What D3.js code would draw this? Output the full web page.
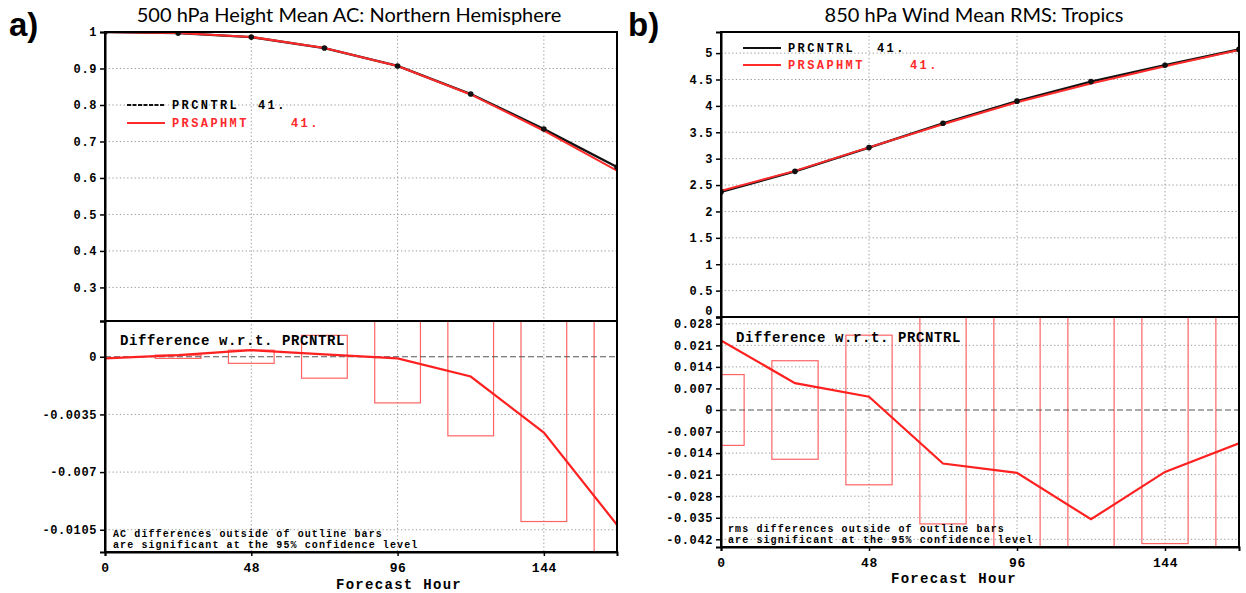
<!DOCTYPE html>
<html>
<head>
<meta charset="utf-8">
<script src="https://cdn.jsdelivr.net/npm/d3@7"></script>
<style>
body { margin: 0; background: #fff; }
.mono { font-family: "Liberation Mono", "DejaVu Sans Mono", monospace; font-weight: bold; }
.ttl { font-family: Lato, "Open Sans", sans-serif; }
</style>
</head>
<body>
<svg id="chart" width="1246" height="593"></svg>
<script>
// forecast hours shared by both panels
var hours = [0, 24, 48, 72, 96, 120, 144, 168];
var xTicks = [0, 48, 96, 144];

// a) 500 hPa height anomaly correlation, NH
var acCntrl  = [1.0, 0.997, 0.986, 0.956, 0.907, 0.830, 0.734, 0.630];
var acSaphmt = [0.9999, 0.9971, 0.9864, 0.9562, 0.9069, 0.8288, 0.7294, 0.6198];
var acDiff   = [-0.0001, 0.0001, 0.0004, 0.00015, -0.0001, -0.0012, -0.0046, -0.0102];
var acBar    = [0, 0.0001, 0.0004, 0.0013, 0.0028, 0.0048, 0.0100, 0.0140];
var acTicks     = [0.3, 0.4, 0.5, 0.6, 0.7, 0.8, 0.9, 1];
var acDiffTicks = [0, -0.0035, -0.007, -0.0105];

// b) 850 hPa wind RMS, tropics
var rmsCntrl  = [2.37, 2.76, 3.21, 3.67, 4.09, 4.46, 4.77, 5.07];
var rmsSaphmt = [2.3926, 2.7687, 3.2143, 3.6526, 4.0696, 4.4245, 4.7499, 5.0592];
var rmsDiff   = [0.0226, 0.0087, 0.0043, -0.0174, -0.0204, -0.0355, -0.0201, -0.0108];
var rmsBar    = [0.0115, 0.016, 0.0243, 0.037, 0.05, 0.05, 0.0434, 0.05];
var rmsTicks     = [0, 0.5, 1, 1.5, 2, 2.5, 3, 3.5, 4, 4.5, 5];
var rmsDiffTicks = [0.028, 0.021, 0.014, 0.007, 0, -0.007, -0.014, -0.021, -0.028, -0.035, -0.042];

var svg = d3.select('#chart');

function addText(g, x, y, str, size, cls, opts) {
    opts = opts || {};
    return g.append('text')
        .attr('class', cls)
        .attr('x', x)
        .attr('y', y)
        .attr('text-anchor', opts.anchor || 'start')
        .style('font-size', size + 'px')
        .style('letter-spacing', (opts.ls || 0) + 'px')
        .style('fill', opts.fill || '#000')
        .text(str);
}

function drawPanel(p) {
    var g = svg.append('g');
    var x = d3.scaleLinear().domain([0, 168]).range([p.left, p.right]);
    var yTop = d3.scaleLinear().domain(p.topDomain).range([p.mid, p.top]);
    var yBot = d3.scaleLinear().domain(p.diffDomain).range([p.bottom, p.mid]);

    //clip paths for the two sub panels
    var defs = g.append('defs');
    defs.append('clipPath').attr('id', 'ct' + p.id).append('rect')
        .attr('x', p.left).attr('y', p.top)
        .attr('width', p.right - p.left).attr('height', p.mid - p.top);
    defs.append('clipPath').attr('id', 'cb' + p.id).append('rect')
        .attr('x', p.left).attr('y', p.mid)
        .attr('width', p.right - p.left).attr('height', p.bottom - p.mid);

    //dotted grid
    var grid = g.append('g')
        .style('stroke', '#9a9a9a')
        .style('stroke-width', 1)
        .style('stroke-dasharray', '1.3,2.4');
    xTicks.filter(function(d){ return d > 0; }).forEach(function(h){
        grid.append('line')
            .attr('x1', x(h)).attr('x2', x(h))
            .attr('y1', p.top).attr('y2', p.bottom);
    });
    p.topTicks.forEach(function(v){
        var yy = yTop(v);
        if (yy > p.top + 2 && yy < p.mid - 2) {
            grid.append('line')
                .attr('x1', p.left).attr('x2', p.right)
                .attr('y1', yy).attr('y2', yy);
        }
    });
    p.diffTicks.forEach(function(v){
        var yy = yBot(v);
        if (v !== 0 && yy > p.mid + 2 && yy < p.bottom - 2) {
            grid.append('line')
                .attr('x1', p.left).attr('x2', p.right)
                .attr('y1', yy).attr('y2', yy);
        }
    });

    //top panel lines
    var top = g.append('g').attr('clip-path', 'url(#ct' + p.id + ')');
    var lineTop = d3.line()
        .x(function(d, i){ return x(hours[i]); })
        .y(function(d){ return yTop(d); });
    top.append('path')
        .datum(p.cntrl)
        .attr('d', lineTop)
        .style('fill', 'none')
        .style('stroke', '#111')
        .style('stroke-width', 2.4);
    top.append('path')
        .datum(p.saphmt)
        .attr('d', lineTop)
        .style('fill', 'none')
        .style('stroke', '#ff2a2a')
        .style('stroke-width', 2);
    top.selectAll('.mk')
        .data(p.cntrl)
        .enter()
        .append('circle')
        .attr('cx', function(d, i){ return x(hours[i]); })
        .attr('cy', function(d){ return yTop(d); })
        .attr('r', 2.8)
        .style('fill', '#111');

    //bottom panel: significance bars, zero line, difference line
    var bot = g.append('g').attr('clip-path', 'url(#cb' + p.id + ')');
    var halfW = 7.5;
    var barData = p.bars.map(function(v, i){ return {h: hours[i], v: v}; })
        .filter(function(d){ return d.v > 0; });
    bot.selectAll('.bar')
        .data(barData)
        .enter()
        .append('rect')
        .attr('x', function(d){ return x(d.h - halfW); })
        .attr('width', x(2 * halfW) - x(0))
        .attr('y', function(d){ return yBot(d.v); })
        .attr('height', function(d){ return yBot(-d.v) - yBot(d.v); })
        .style('fill', 'none')
        .style('stroke', '#ff6464')
        .style('stroke-width', 1.2);
    bot.append('line')
        .attr('x1', p.left).attr('x2', p.right)
        .attr('y1', yBot(0)).attr('y2', yBot(0))
        .style('stroke', '#555')
        .style('stroke-width', 1.2)
        .style('stroke-dasharray', '6,3');
    bot.append('path')
        .datum(p.diff)
        .attr('d', d3.line()
            .x(function(d, i){ return x(hours[i]); })
            .y(function(d){ return yBot(d); }))
        .style('fill', 'none')
        .style('stroke', '#ff2020')
        .style('stroke-width', 2.2);

    //frame
    g.append('rect')
        .attr('x', p.left).attr('y', p.top)
        .attr('width', p.right - p.left).attr('height', p.bottom - p.top)
        .style('fill', 'none')
        .style('stroke', '#000')
        .style('stroke-width', 2);
    g.append('line')
        .attr('x1', p.left).attr('x2', p.right)
        .attr('y1', p.mid).attr('y2', p.mid)
        .style('stroke', '#000')
        .style('stroke-width', 2);

    //axes
    var axT = g.append('g')
        .attr('transform', 'translate(' + p.left + ',0)')
        .call(d3.axisLeft(yTop).tickValues(p.topTicks).tickSize(5).tickPadding(3).tickFormat(String));
    var axB = g.append('g')
        .attr('transform', 'translate(' + p.left + ',0)')
        .call(d3.axisLeft(yBot).tickValues(p.diffTicks).tickSize(5).tickPadding(3).tickFormat(String));
    var axX = g.append('g')
        .attr('transform', 'translate(0,' + p.bottom + ')')
        .call(d3.axisBottom(x).tickValues(xTicks).tickSize(4).tickPadding(4).tickFormat(String));
    [axT, axB, axX].forEach(function(ax){
        ax.select('.domain').style('stroke', '#000').style('stroke-width', 2);
        ax.selectAll('.tick line').style('stroke', '#000').style('stroke-width', 1.5);
        ax.selectAll('text')
            .attr('class', 'mono')
            .style('font-size', '12px')
            .style('letter-spacing', '0.6px')
            .style('fill', '#000');
    });
    axX.selectAll('text').style('font-size', '13px').attr('dy', '0.9em');
    //the bottom label of the upper axis sits on the divider: lift it clear
    axT.selectAll('.tick')
        .filter(function(d){ return Math.abs(yTop(d) - p.mid) < 1; })
        .select('text').attr('dy', '-0.25em');

    //legend
    var lg = g.append('g');
    lg.append('line')
        .attr('x1', p.legend.x).attr('x2', p.legend.x + 38)
        .attr('y1', p.legend.y1).attr('y2', p.legend.y1)
        .style('stroke', '#111').style('stroke-width', 2)
        .style('stroke-dasharray', p.legend.dash);
    lg.append('line')
        .attr('x1', p.legend.x).attr('x2', p.legend.x + 38)
        .attr('y1', p.legend.y2).attr('y2', p.legend.y2)
        .style('stroke', '#ff2a2a').style('stroke-width', 2);
    addText(lg, p.legend.x + 45, p.legend.y1 + 4, 'PRCNTRL', 12, 'mono', {ls: 2.4});
    addText(lg, p.legend.n1, p.legend.y1 + 4, '41.', 12, 'mono', {ls: 2.4});
    addText(lg, p.legend.x + 45, p.legend.y2 + 4, 'PRSAPHMT', 12, 'mono', {ls: 2.4, fill: '#ff2a2a'});
    addText(lg, p.legend.n2, p.legend.y2 + 4, '41.', 12, 'mono', {ls: 2.4, fill: '#ff2a2a'});

    //annotations
    addText(g, p.diffLabel.x, p.diffLabel.y, 'Difference w.r.t. PRCNTRL', 14, 'mono', {ls: 0.6});
    addText(g, p.note.x, p.note.y, p.note.line1, 10, 'mono', {ls: 1.1});
    addText(g, p.note.x, p.note.y + 11, 'are significant at the 95% confidence level', 10, 'mono', {ls: 1.1});
    addText(g, p.xLabel.x, p.xLabel.y, 'Forecast Hour', 14, 'mono', {ls: 1.3, anchor: 'middle'});

    //titles
    addText(g, p.titleX, 22, p.title, 20, 'ttl', {anchor: 'middle'});
    g.append('text')
        .attr('x', p.letterX)
        .attr('y', 36)
        .style('font-family', '"Liberation Sans", Arial, sans-serif')
        .style('font-weight', 'bold')
        .style('font-size', '33px')
        .text(p.letter);
}

drawPanel({
    id: 'a', letter: 'a)', letterX: 9,
    title: '500 hPa Height Mean AC: Northern Hemisphere', titleX: 349,
    left: 105, right: 617, top: 32, mid: 321, bottom: 552,
    topDomain: [0.208, 1], diffDomain: [-0.01185, 0.00217],
    topTicks: acTicks, diffTicks: acDiffTicks,
    cntrl: acCntrl, saphmt: acSaphmt, diff: acDiff, bars: acBar,
    legend: {x: 127, y1: 105, y2: 123, n1: 258, n2: 291, dash: '4,1.5'},
    diffLabel: {x: 120, y: 345},
    note: {x: 113, y: 537, line1: 'AC differences outside of outline bars'},
    xLabel: {x: 399, y: 589}
});

drawPanel({
    id: 'b', letter: 'b)', letterX: 628,
    title: '850 hPa Wind Mean RMS: Tropics', titleX: 974,
    left: 721, right: 1239, top: 32, mid: 317, bottom: 547,
    topDomain: [0, 5.4], diffDomain: [-0.0445, 0.0302],
    topTicks: rmsTicks, diffTicks: rmsDiffTicks,
    cntrl: rmsCntrl, saphmt: rmsSaphmt, diff: rmsDiff, bars: rmsBar,
    legend: {x: 743, y1: 48, y2: 65, n1: 877, n2: 910, dash: null},
    diffLabel: {x: 736, y: 342},
    note: {x: 728, y: 532, line1: 'rms differences outside of outline bars'},
    xLabel: {x: 954, y: 583}
});
</script>
</body>
</html>
